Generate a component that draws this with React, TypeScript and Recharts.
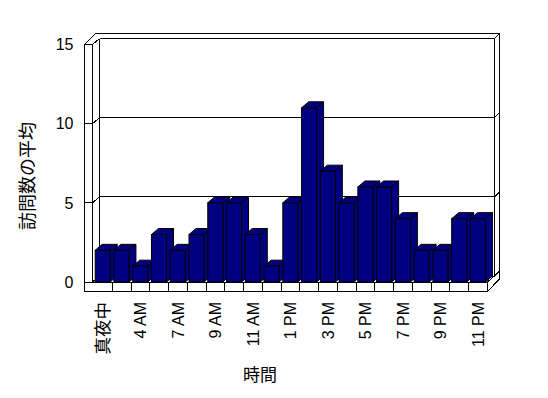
import { BarChart, Bar, XAxis, YAxis } from "recharts"

const hours = [
  "真夜中", "2 AM", "4 AM", "6 AM", "7 AM", "8 AM", "9 AM", "10 AM", "11 AM", "正午", "1 PM",
  "2 PM", "3 PM", "4 PM", "5 PM", "6 PM", "7 PM", "8 PM", "9 PM", "10 PM", "11 PM",
]
const visits = [2, 2, 1, 3, 2, 3, 5, 5, 3, 1, 5, 11, 7, 5, 6, 6, 4, 2, 2, 4, 4]
const yTicks = [0, 5, 10, 15]

const data = hours.map((hour, i) => ({ hour, visits: visits[i] }))

// plot box (front plane) and depth of the fake 3d
const W = 548
const H = 398
const LEFT = 93.5
const RIGHT = 487.5
const TOP = 44.5
const BOTTOM = 282
const DX = 7
const DY = 6
const WALL = 8
const NAVY = "#000080"
const LATIN = "'Liberation Sans', Arial, sans-serif"
const CJK = "'Noto Sans CJK JP', sans-serif"

const yPos = (v: number) => BOTTOM - (v / yTicks[yTicks.length - 1]) * (BOTTOM - TOP)

function Box(props: any) {
  const { x, y, width, height } = props
  if (!height || height <= 0) return null
  const r = x + width
  const b = y + height
  return (
    <g stroke="#000" strokeWidth={1} fill={NAVY}>
      <polygon points={`${x},${y} ${x + DX},${y - DY} ${r + DX},${y - DY} ${r},${y}`} />
      <polygon points={`${r},${y} ${r + DX},${y - DY} ${r + DX},${b - DY} ${r},${b}`} />
      <rect x={x} y={y} width={width} height={height} />
    </g>
  )
}

function XTick(props: any) {
  const { x, y, payload } = props
  const cjk = /[^\x00-\x7f]/.test(payload.value)
  return (
    <text
      x={x}
      y={y}
      transform={`rotate(-90 ${x} ${y})`}
      textAnchor="end"
      dy="0.35em"
      fontSize={cjk ? 17.5 : 16}
      fontFamily={cjk ? CJK : LATIN}
      fill="#000"
      style={{ fill: "#000" }}
    >
      {payload.value}
    </text>
  )
}

function Walls() {
  const band = (RIGHT - LEFT) / hours.length
  const lx = LEFT - 1
  const ox = lx - WALL
  const bl = lx + DX
  const br = RIGHT + DX
  const outTop = TOP - DY - 5
  const outRight = br + 5
  const floorB = BOTTOM + 9.5
  return (
    <svg width={W} height={H} style={{ position: "absolute", left: 0, top: 0 }}>
      <g stroke="#000" strokeWidth={1} fill="none" shapeRendering="crispEdges">
        <polygon
          fill="#fff"
          points={`${ox},${TOP} ${ox + 11},${outTop} ${outRight},${outTop} ${outRight},${BOTTOM - 3} ${RIGHT},${floorB} ${ox},${floorB}`}
        />
        <line x1={lx} y1={TOP} x2={lx} y2={BOTTOM} />
        <line x1={bl} y1={TOP - DY} x2={bl} y2={BOTTOM - DY} />
        <line x1={br} y1={TOP - DY} x2={br} y2={BOTTOM - DY} />
        <line x1={br} y1={BOTTOM - DY} x2={RIGHT} y2={BOTTOM} />
        {yTicks.map((v) => {
          const y = yPos(v)
          return (
            <g key={v}>
              <line x1={ox} y1={y} x2={lx} y2={y} />
              <line x1={lx} y1={y} x2={bl} y2={y - DY} />
              <line x1={bl} y1={y - DY} x2={br} y2={y - DY} />
              <line x1={br} y1={y - DY} x2={outRight} y2={y - DY - 5} />
            </g>
          )
        })}
        <line x1={ox} y1={BOTTOM} x2={RIGHT} y2={BOTTOM} />
        <line x1={RIGHT} y1={BOTTOM} x2={RIGHT} y2={floorB} />
        {hours.slice(1).map((h, i) => {
          const x = LEFT + (i + 1) * band
          return <line key={h} x1={x} y1={BOTTOM} x2={x} y2={floorB} />
        })}
      </g>
      <text
        x={28}
        y={176}
        transform="rotate(-90 28 176)"
        textAnchor="middle"
        dy="0.35em"
        fontSize={18}
        fontFamily={CJK}
        fill="#000"
      >
        訪問数の平均
      </text>
      <text x={260} y={375} textAnchor="middle" dy="0.35em" fontSize={17} fontFamily={CJK} fill="#000">
        時間
      </text>
    </svg>
  )
}

export default function App() {
  return (
    <div style={{ position: "absolute", left: 0, top: 0, width: W, height: H, background: "#fff" }}>
      <Walls />
      <div style={{ position: "absolute", left: 0, top: 0 }}>
        <BarChart
          width={W}
          height={H}
          data={data}
          margin={{ top: TOP, right: W - RIGHT, bottom: 0, left: 0 }}
          barCategoryGap="9%"
        >
          <XAxis
            dataKey="hour"
            interval={1}
            height={H - BOTTOM}
            axisLine={false}
            tickLine={false}
            tickSize={0}
            tickMargin={20}
            tick={<XTick />}
          />
          <YAxis
            domain={[0, 15]}
            ticks={yTicks}
            width={LEFT}
            axisLine={false}
            tickLine={false}
            tickSize={0}
            tickMargin={20}
            tick={{ fill: "#000", fontSize: 16, fontFamily: LATIN }}
          />
          <Bar dataKey="visits" shape={<Box />} isAnimationActive={false} />
        </BarChart>
      </div>
    </div>
  )
}
